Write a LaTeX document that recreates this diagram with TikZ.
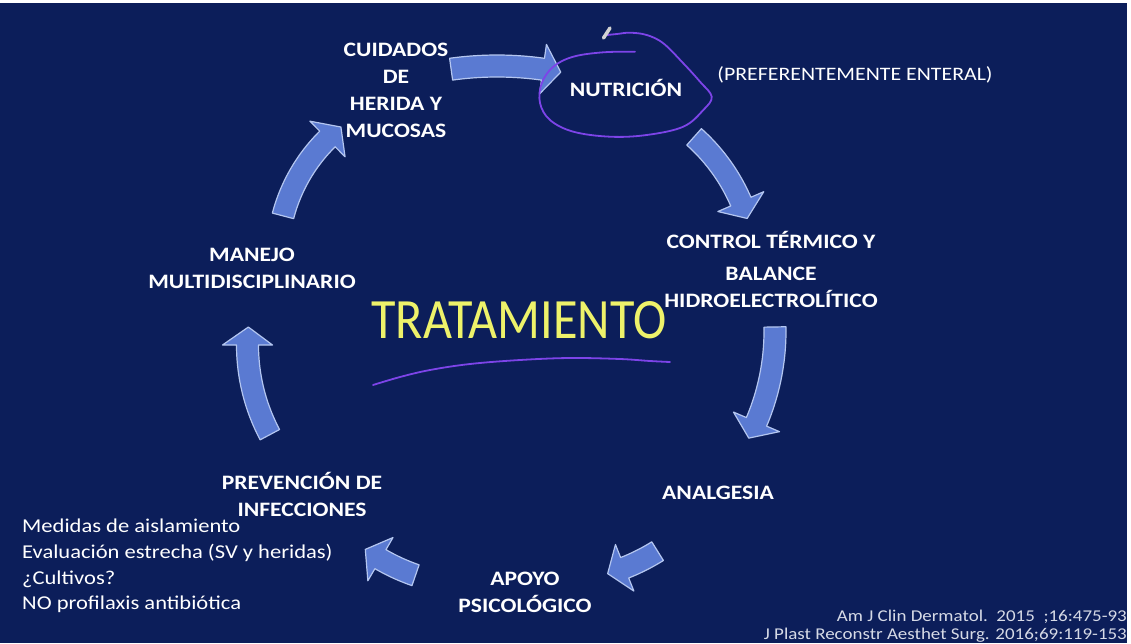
\documentclass[tikz,border=0pt]{standalone}
\usepackage{fontspec}
\setmainfont[FakeStretch=1.15]{Carlito}
\newfontfamily\tratfont[FakeStretch=0.88]{Carlito}
\definecolor{navy}{HTML}{0C1E5A}
\definecolor{arfill}{HTML}{5A7AD2}
\definecolor{arline}{HTML}{B4C6F0}
\definecolor{ylw}{HTML}{EEF26A}
\definecolor{purp}{HTML}{7D44E8}
\definecolor{refgray}{HTML}{D6DAE6}
\newcommand{\blkarrow}[5]{%
  \pgfmathsetmacro{\hlen}{18/#3*180/pi}%
  \pgfmathsetmacro{\abase}{#5+\hlen}%
  \filldraw[blkarrowstyle]
    plot[domain=#4:\abase, samples=40] ({#1+(#3+11)*cos(\x)}, {#2-(#3+11)*sin(\x)})
    -- ({#1+(#3+25)*cos(\abase)}, {#2-(#3+25)*sin(\abase)})
    -- ({#1+#3*cos(#5)}, {#2-#3*sin(#5)})
    -- ({#1+(#3-25)*cos(\abase)}, {#2-(#3-25)*sin(\abase)})
    -- plot[domain=\abase:#4, samples=40] ({#1+(#3-11)*cos(\x)}, {#2-(#3-11)*sin(\x)})
    -- cycle;}
\begin{document}
\begin{tikzpicture}[x=1pt,y=-1pt,
  blkarrowstyle/.style={fill=arfill, draw=arline, line width=1.2pt, line join=round},
  hdtxt/.style={text=white, align=center, font=\bfseries\fontsize{20.5}{27}\selectfont, inner sep=0pt},
  plaintxt/.style={text=white, align=left, font=\fontsize{19.6}{25.7}\selectfont, inner sep=0pt},
  reftxt/.style={text=refgray, align=right, font=\fontsize{16.5}{18}\selectfont, inner sep=0pt},
  inkline/.style={draw=purp, line width=1.8pt, line cap=round, line join=round}]
\useasboundingbox (0,0) rectangle (1131,643);
\fill[white] (0,0) rectangle (1131,643);
\fill[navy] (0,3) rectangle (1127,643);

% arrows
\blkarrow{497}{400}{334}{97.9}{79}
\blkarrow{571}{275}{185}{48.3}{17.8}
\blkarrow{543}{331}{232}{1}{-27.5}
\blkarrow{550}{379}{203}{-58}{-73.5}
\blkarrow{480}{388}{198}{251}{234.6}
\blkarrow{438.5}{345}{191}{208}{174.6}
\blkarrow{445.5}{258.5}{168}{165.3}{128.5}

% texts
\node[hdtxt] (cuid) at (396,90) {CUIDADOS\\DE\\HERIDA Y\\MUCOSAS};
\node[hdtxt] (nutr) at (626,88) {NUTRICIÓN};
\node[text=white, font=\fontsize{19}{22}\selectfont, inner sep=0pt] (pref) at (855,75) {(PREFERENTEMENTE ENTERAL)};
\node[hdtxt] (ctrl) at (771,240) {CONTROL TÉRMICO Y};
\node[hdtxt] (bal) at (771,287) {BALANCE\\HIDROELECTROLÍTICO};
\node[hdtxt] (anal) at (718,493) {ANALGESIA};
\node[hdtxt] (apoyo) at (525,592) {APOYO\\PSICOLÓGICO};
\node[hdtxt] (prev) at (302,494) {PREVENCIÓN DE\\INFECCIONES};
\node[hdtxt] (manejo) at (252,268) {MANEJO\\MULTIDISCIPLINARIO};
\node[text=ylw, font=\tratfont\fontsize{57}{60}\selectfont, inner sep=0pt] (trat) at (519,320) {TRATAMIENTO};
\node[plaintxt, anchor=west] (list) at (22,566) {Medidas de aislamiento\\Evaluación estrecha (SV y heridas)\\¿Cultivos?\\NO profilaxis antibiótica};
\node[reftxt, anchor=east] (refs) at (1127,626) {Am J Clin Dermatol.\ \ 2015\ \ ;16:475-93\\J Plast Reconstr Aesthet Surg. 2016;69:119-153};

% hand-drawn ink
\draw[inkline] plot[smooth, tension=0.6] coordinates {(607,35) (617,34) (630,32.7) (646.7,35) (663.3,43.3) (683.3,63.3) (700,81.7) (711.7,96.7) (703.3,110) (683.3,126.7) (646.7,135) (610,136.7) (573.3,131.7) (550,120) (540,103) (541.7,83.3) (553.3,66.7) (573.3,56.7) (603.3,52.3) (635,51.7)};
\draw[inkline] plot[smooth, tension=0.6] coordinates {(373,385) (400,377) (430,370) (470,364) (520,360) (570,358) (620,359) (650,361) (670,362)};
\draw[line width=3.5pt, gray!35, line cap=round] (603.5,38) -- (610,28);
\end{tikzpicture}
\end{document}
